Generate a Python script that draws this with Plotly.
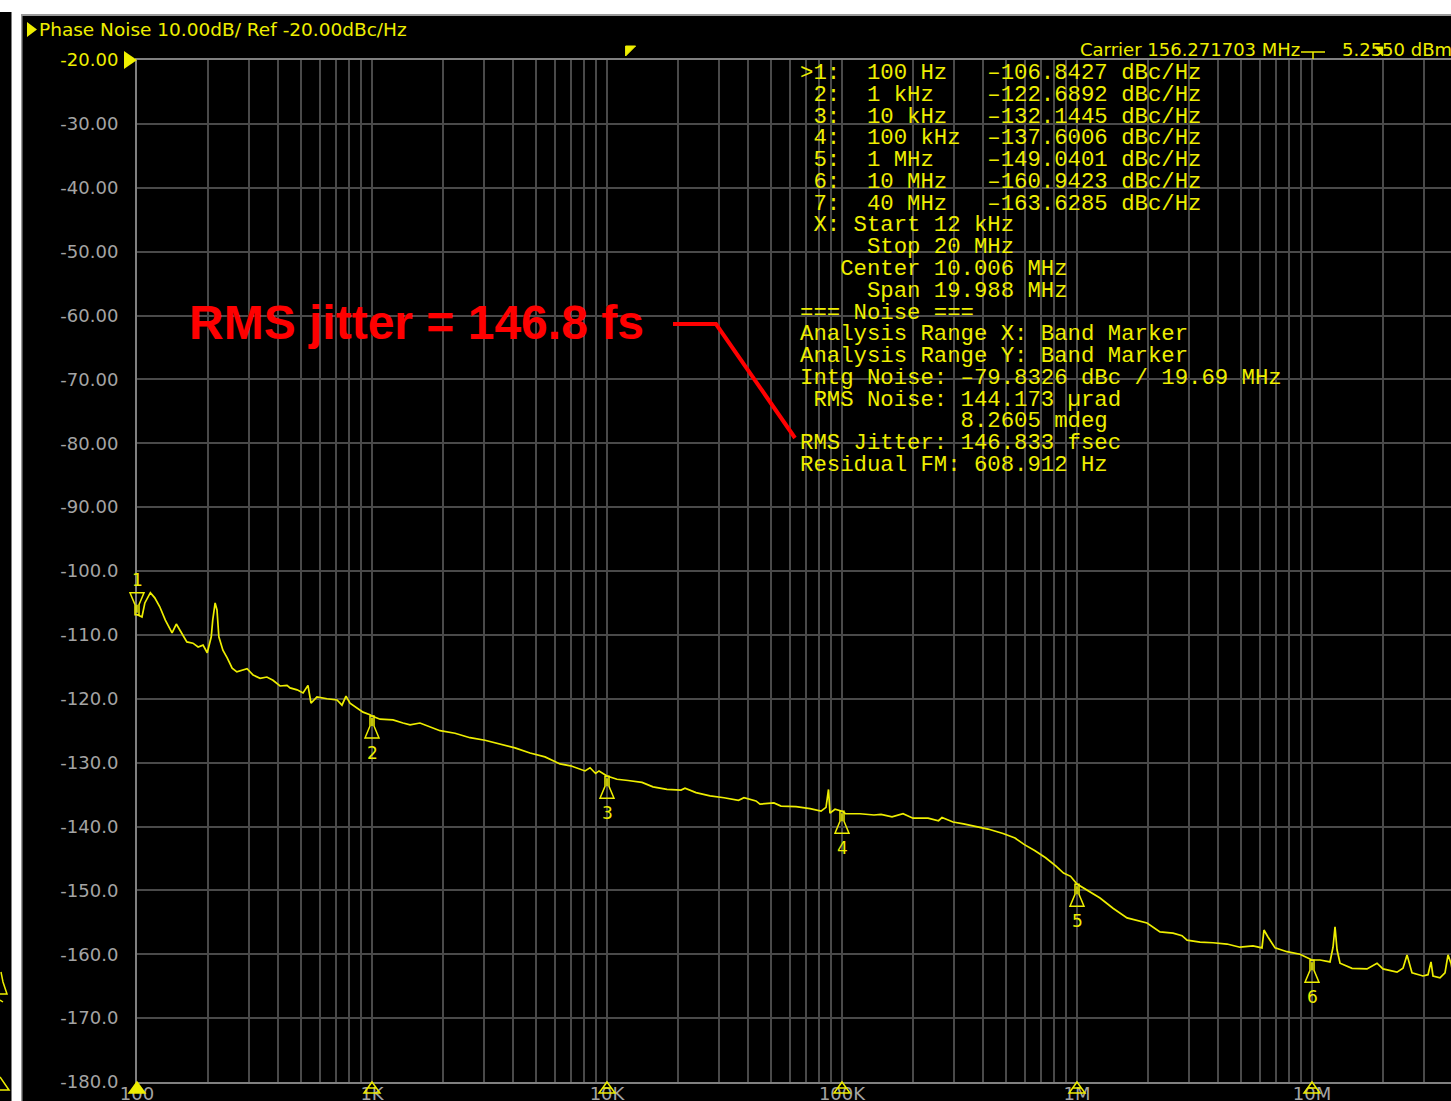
import numpy as np
import plotly.graph_objects as go

# ---------------- measured trace: offset frequency (Hz) vs SSB phase noise (dBc/Hz)
freq_hz = [
    100, 105, 108, 114, 119, 125, 132, 138, 141, 147, 152, 163, 173, 182, 191, 199,
    207, 210, 215, 219, 223, 232, 242, 254, 266, 294, 312, 334, 357, 379, 406, 435,
    448, 480, 509, 534, 550, 583, 644, 710, 745, 775, 806, 863, 916, 980, 1000, 1082,
    1228, 1355, 1452, 1600, 1770, 1948, 2255, 2612, 3026, 3505, 4059, 4702, 5447, 6310,
    7000, 8062, 8467, 8944, 9247, 10000, 11030, 12290, 14090, 15690, 18000, 20650, 21470,
    23920, 27440, 31470, 36270, 38280, 43050, 44770, 51340, 55010, 63730, 73100, 81420,
    85500, 87620, 88900, 93370, 100000, 103600, 119300, 136800, 146600, 163300, 181800,
    200500, 232300, 257400, 266400, 296700, 328900, 364500, 418100, 484300, 544700,
    595100, 662800, 735300, 814200, 876200, 939300, 1.0e6, 1.103e6, 1.253e6, 1.423e6,
    1.633e6, 1.986e6, 2.255e6, 2.562e6, 2.798e6, 2.939e6, 3.338e6, 3.791e6, 4.348e6,
    4.939e6, 5.610e6, 6.126e6, 6.247e6, 6.497e6, 6.961e6, 7.828e6, 8.891e6, 1.0e7,
    1.082e7, 1.193e7, 1.229e7, 1.253e7, 1.278e7, 1.316e7, 1.480e7, 1.714e7, 1.891e7,
    2.005e7, 2.300e7, 2.439e7, 2.537e7, 2.664e7, 2.967e7, 3.117e7, 3.209e7, 3.273e7,
    3.505e7, 3.681e7, 3.791e7, 3.904e7, 4.0e7,
]
phase_noise_dbc = [
    -106.8, -107.2, -105.0, -103.4, -104.2, -105.6, -107.7, -109.2, -109.7, -108.3, -109.2,
    -111.1, -111.3, -111.9, -111.6, -112.8, -110.3, -107.7, -105.0, -106.1, -110.3, -112.4,
    -113.6, -115.2, -115.8, -115.3, -116.3, -116.8, -116.6, -117.1, -118.0, -117.9, -118.3,
    -118.6, -119.1, -117.9, -120.7, -119.7, -120.0, -120.2, -121.0, -119.6, -120.7, -121.4,
    -122.1, -122.5, -122.7, -123.2, -123.3, -123.8, -124.1, -123.8, -124.4, -125.0, -125.4,
    -126.1, -126.5, -127.1, -127.7, -128.5, -129.1, -130.2, -130.5, -131.3, -130.8, -131.7,
    -131.3, -132.1, -132.6, -132.8, -133.1, -133.8, -134.2, -134.3, -134.0, -134.7, -135.2,
    -135.5, -135.9, -135.5, -136.0, -136.5, -136.3, -136.8, -136.9, -137.2, -137.6, -137.0,
    -134.2, -137.9, -137.3, -137.6, -138.0, -138.0, -138.2, -138.1, -138.5, -138.0, -138.7,
    -138.7, -139.1, -138.6, -139.3, -139.6, -139.9, -140.4, -141.1, -141.8, -142.8, -143.8,
    -144.9, -146.2, -147.3, -147.8, -149.0, -149.9, -151.2, -152.8, -154.3, -155.1, -156.5,
    -156.7, -157.1, -157.8, -158.1, -158.2, -158.4, -158.9, -158.7, -159.0, -156.2, -157.3,
    -159.0, -159.6, -160.0, -160.9, -160.9, -161.2, -158.9, -155.7, -159.3, -161.4, -162.2,
    -162.3, -161.4, -162.3, -162.8, -162.2, -160.1, -162.9, -163.4, -163.2, -161.2, -163.4,
    -163.7, -162.9, -160.1, -161.4, -163.6,
]

# ---------------- marker table
marker_ids = ["1", "2", "3", "4", "5", "6", "7"]
marker_freq_hz = [100, 1e3, 1e4, 1e5, 1e6, 1e7, 4e7]
marker_freq_text = ["100 Hz", "1 kHz", "10 kHz", "100 kHz", "1 MHz", "10 MHz", "40 MHz"]
marker_level_dbc = [-106.8427, -122.6892, -132.1445, -137.6006, -149.0401, -160.9423, -163.6285]

# integration band (band marker)
band_start_hz = 12e3
band_stop_hz = 20e6
band_lines = [
    " X: Start 12 kHz",
    "     Stop 20 MHz",
    "   Center 10.006 MHz",
    "     Span 19.988 MHz",
]
noise_lines = [
    "=== Noise ===",
    "Analysis Range X: Band Marker",
    "Analysis Range Y: Band Marker",
    "Intg Noise: -79.8326 dBc / 19.69 MHz",
    " RMS Noise: 144.173 µrad",
    "            8.2605 mdeg",
    "RMS Jitter: 146.833 fsec",
    "Residual FM: 608.912 Hz",
]
rms_jitter_fs = 146.833

carrier_text = "Carrier 156.271703 MHz"
carrier_power_text = "5.2550 dBm"

# ---------------- axes
ref_level = -20.0
scale_db = 10.0
y_ticks = [-20, -30, -40, -50, -60, -70, -80, -90, -100, -110, -120, -130, -140, -150,
           -160, -170, -180]
y_tick_text = ["-20.00", "-30.00", "-40.00", "-50.00", "-60.00", "-70.00", "-80.00",
               "-90.00", "-100.0", "-110.0", "-120.0", "-130.0", "-140.0", "-150.0",
               "-160.0", "-170.0", "-180.0"]
decade_ticks = [1e2, 1e3, 1e4, 1e5, 1e6, 1e7]
decade_text = ["100", "1K", "10K", "100K", "1M", "10M"]

# ---------------- styling / geometry
W, H = 1451, 1101
PL, PR, PT, PB = 137, 1451, 60, 1082          # plot-area pixel box
X_LO, X_HI = 2.0, 2.0 + (PR - PL) / 235.0       # visible log10 span (235 px / decade)
Y_LO, Y_HI = -180.0, -20.0
YEL = "#eeee00"
GRID = "#4a4a4a"
FRAME = "#808080"
LABEL = "#a4a4a4"
NB = "\u00a0"


def px(xpix):
    return (xpix - PL) / (PR - PL)


def py(ypix):
    return (PB - ypix) / (PB - PT)


def fx(f):
    return (np.log10(f) - X_LO) / (X_HI - X_LO)


def dy(db):
    return (db - Y_LO) / (Y_HI - Y_LO)


def mono(s):
    return s.replace(" ", NB).replace("-", "\u2013")


fig = go.Figure()
fig.add_trace(go.Scatter(
    x=freq_hz, y=phase_noise_dbc, mode="lines",
    line=dict(color=YEL, width=1.7), hoverinfo="skip",
))

shapes = []
# screen frame: black panels on white window background
shapes.append(dict(type="rect", xref="paper", yref="paper", layer="below",
                   x0=px(0), x1=px(11.5), y0=py(H), y1=py(12),
                   fillcolor="black", line=dict(width=0)))
shapes.append(dict(type="rect", xref="paper", yref="paper", layer="below",
                   x0=px(21), x1=px(W), y0=py(H), y1=py(14),
                   fillcolor="#9a9a9a", line=dict(width=0)))
shapes.append(dict(type="rect", xref="paper", yref="paper", layer="below",
                   x0=px(22.5), x1=px(W), y0=py(H), y1=py(16),
                   fillcolor="black", line=dict(width=0)))

# integration band edges
for fb, top in [(band_start_hz, 46), (band_stop_hz, 47)]:
    shapes.append(dict(type="line", xref="x", yref="paper",
                       x0=np.log10(fb), x1=np.log10(fb), y0=0, y1=py(top),
                       line=dict(color=YEL, width=2)))
shapes.append(dict(type="path", xref="paper", yref="paper", xsizemode="pixel",
                   ysizemode="pixel", xanchor=fx(band_start_hz), yanchor=py(46),
                   path="M 0 0 L 10 0 L 0 -10 Z", fillcolor=YEL, line=dict(color=YEL, width=1)))
shapes.append(dict(type="path", xref="paper", yref="paper", xsizemode="pixel",
                   ysizemode="pixel", xanchor=fx(band_stop_hz), yanchor=py(47),
                   path="M 0 0 L -8 0 L 0 -9 Z", fillcolor=YEL, line=dict(color=YEL, width=1)))

# reference-level flag on the y axis and the title bullet
shapes.append(dict(type="path", xref="paper", yref="paper", xsizemode="pixel",
                   ysizemode="pixel", xanchor=0, yanchor=dy(ref_level),
                   path="M -13 9 L 0 0 L -13 -9 Z", fillcolor=YEL, line=dict(width=0)))
shapes.append(dict(type="path", xref="paper", yref="paper", xsizemode="pixel",
                   ysizemode="pixel", xanchor=px(27), yanchor=py(29.5),
                   path="M 0 7.5 L 10 0 L 0 -7.5 Z", fillcolor=YEL, line=dict(width=0)))
# carrier level tee
shapes.append(dict(type="path", xref="paper", yref="paper", xsizemode="pixel",
                   ysizemode="pixel", xanchor=px(1313), yanchor=py(52),
                   path="M -12 0 L 12 0 M 0 0 L 0 -7", line=dict(color=YEL, width=1.5)))

# trace markers: flask-shaped glyph with the tip on the trace
GLYPH_DOWN = "M -2 0 L -2 -10 L -7 -22 L 7 -22 L 2 -10 L 2 0 Z M 0 -2 L 0 -10"
GLYPH_UP = "M -2 0 L -2 10 L -7 22 L 7 22 L 2 10 L 2 0 Z M 0 2 L 0 10"
for i, (mid, f, lv) in enumerate(zip(marker_ids, marker_freq_hz, marker_level_dbc)):
    if fx(f) > 1.0:
        continue
    shapes.append(dict(type="path", xref="paper", yref="paper", xsizemode="pixel",
                       ysizemode="pixel", xanchor=fx(f), yanchor=dy(lv),
                       path=GLYPH_UP if i == 0 else GLYPH_DOWN,
                       line=dict(color=YEL, width=1.5)))
    # marker flags along the frequency axis
    shapes.append(dict(type="path", xref="paper", yref="paper", xsizemode="pixel",
                       ysizemode="pixel", xanchor=fx(f), yanchor=0,
                       path="M 0 0 L -8 -11 L 8 -11 Z M -4 -6 L 4 -6",
                       fillcolor=YEL if i == 0 else "rgba(0,0,0,0)",
                       line=dict(color=YEL, width=1.5)))

# neighbouring panel edge (marker glyph fragments)
shapes.append(dict(type="path", xref="paper", yref="paper", xsizemode="pixel",
                   ysizemode="pixel", xanchor=px(0), yanchor=py(972),
                   path="M 1 0 L 3 -10 L 7 -22 L 0 -22 M 0 -28 L 3 -30",
                   line=dict(color=YEL, width=1.5)))
shapes.append(dict(type="path", xref="paper", yref="paper", xsizemode="pixel",
                   ysizemode="pixel", xanchor=px(0), yanchor=py(1077),
                   path="M 0 0 L 9 -13 L 0 -13", line=dict(color=YEL, width=1.5)))

# red call-out leader
shapes.append(dict(type="path", xref="paper", yref="paper",
                   path=f"M {px(673)} {py(324)} L {px(716)} {py(324)} L {px(795)} {py(438)}",
                   line=dict(color="#ff0000", width=4)))

ann = []
ann.append(dict(xref="paper", yref="paper", x=px(37), y=py(30), xanchor="left",
                yanchor="middle", showarrow=False,
                text=f"Phase Noise {scale_db:.2f}dB/ Ref {ref_level:.2f}dBc/Hz",
                font=dict(family="DejaVu Sans", size=18.5, color=YEL)))
ann.append(dict(xref="paper", yref="paper", x=px(1302), y=py(49), xanchor="right",
                yanchor="middle", showarrow=False, text=carrier_text,
                font=dict(family="DejaVu Sans", size=18, color=YEL)))
ann.append(dict(xref="paper", yref="paper", x=px(1340), y=py(49), xanchor="left",
                yanchor="middle", showarrow=False, text=carrier_power_text,
                font=dict(family="DejaVu Sans", size=18, color=YEL)))

# marker numbers next to the glyphs
for i, (mid, f, lv) in enumerate(zip(marker_ids, marker_freq_hz, marker_level_dbc)):
    if fx(f) > 1.0:
        continue
    ann.append(dict(xref="paper", yref="paper", x=fx(f), y=dy(lv),
                    yshift=35 if i == 0 else -37, xanchor="center", yanchor="middle",
                    showarrow=False, text=mid,
                    font=dict(family="DejaVu Sans", size=17, color=YEL)))

# marker / noise read-out table
rows = []
for i, (mid, ft, lv) in enumerate(zip(marker_ids, marker_freq_text, marker_level_dbc)):
    prefix = ">" if i == 0 else " "
    rows.append(f"{prefix}{mid}:  {ft:<9}{lv:.4f} dBc/Hz")
rows += band_lines + noise_lines
for i, r in enumerate(rows):
    ann.append(dict(xref="paper", yref="paper", x=px(797.5), y=py(73 + 21.78 * i),
                    xanchor="left", yanchor="middle", showarrow=False, text=mono(r),
                    font=dict(family="Liberation Mono", size=22.3, color=YEL)))

ann.append(dict(xref="paper", yref="paper", x=px(187), y=py(322), xanchor="left",
                yanchor="middle", showarrow=False,
                text=f"<b>RMS jitter = {rms_jitter_fs:.1f} fs</b>",
                font=dict(family="Liberation Sans", size=48, color="#ff0000")))

# log grid: every 1..9 per decade, labels only on decades
grid_vals, grid_text = [], []
for k in range(2, 8):
    for m in range(1, 10):
        v = m * 10 ** k
        if np.log10(v) > X_HI:
            continue
        grid_vals.append(v)
        grid_text.append(decade_text[decade_ticks.index(v)] if m == 1 else "")

y_text = [f"<span style='color:{YEL}'>{t}</span>" if v == ref_level else t
          for v, t in zip(y_ticks, y_tick_text)]

fig.update_layout(
    width=W, height=H,
    margin=dict(l=PL, r=W - PR, t=PT, b=H - PB, autoexpand=False),
    paper_bgcolor="white", plot_bgcolor="black",
    showlegend=False, shapes=shapes, annotations=ann,
    xaxis=dict(type="log", range=[X_LO, X_HI], tickmode="array", tickvals=grid_vals,
               ticktext=grid_text, showgrid=True, gridcolor=GRID, gridwidth=2,
               showline=True, linecolor=FRAME, linewidth=2, mirror=True, ticks="",
               ticklabelstandoff=-6, zeroline=False, fixedrange=True, automargin=False,
               tickfont=dict(family="DejaVu Sans", size=18, color=LABEL)),
    yaxis=dict(range=[Y_LO, Y_HI], tickmode="array", tickvals=y_ticks, ticktext=y_text,
               showgrid=True, gridcolor=GRID, gridwidth=2, showline=True,
               linecolor=FRAME, linewidth=2, ticks="", ticklabelstandoff=13,
               zeroline=False, fixedrange=True, automargin=False,
               tickfont=dict(family="DejaVu Sans", size=18, color=LABEL)),
)

fig.write_html("out.html", config={"displayModeBar": False})
